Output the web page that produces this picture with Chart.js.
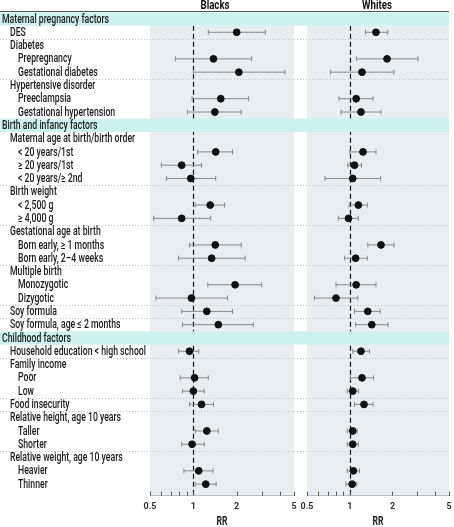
<!DOCTYPE html>
<html>
<head>
<meta charset="utf-8">
<script src="https://cdn.jsdelivr.net/npm/chart.js@4.4.1/dist/chart.umd.min.js"></script>
<style>
    html, body { margin: 0; padding: 0; background: #fff; }
    #wrap { position: relative; width: 454px; height: 527px; }
    #blacks { position: absolute; left: 0; top: 0; }
    #whites { position: absolute; left: 300px; top: 0; }
</style>
</head>
<body>
<div id="wrap">
    <canvas id="blacks" width="300" height="527"></canvas>
    <canvas id="whites" width="154" height="527"></canvas>
</div>
<script>
// rows, top to bottom (level 0 = section band, 1 = item, 2 = sub item)
var rowLabels = [
    "Maternal pregnancy factors", "DES", "Diabetes", "Prepregnancy", "Gestational diabetes",
    "Hypertensive disorder", "Preeclampsia", "Gestational hypertension",
    "Birth and infancy factors", "Maternal age at birth/birth order", "< 20 years/1st",
    "\u2265 20 years/1st", "< 20 years/\u2265 2nd", "Birth weight", "< 2,500 g", "\u2265 4,000 g",
    "Gestational age at birth", "Born early, \u2265 1 months", "Born early, 2\u20134 weeks",
    "Multiple birth", "Monozygotic", "Dizygotic", "Soy formula", "Soy formula, age \u2264 2 months",
    "Childhood factors", "Household education < high school", "Family income", "Poor", "Low",
    "Food insecurity", "Relative height, age 10 years", "Taller", "Shorter",
    "Relative weight, age 10 years", "Heavier", "Thinner"
];
var rowLevels = [0, 1, 1, 2, 2, 1, 2, 2, 0, 1, 2, 2, 2, 1, 2, 2, 1, 2, 2, 1, 2, 2, 1, 1,
                 0, 1, 1, 2, 2, 1, 1, 2, 2, 1, 2, 2];

var blackRR = [null, 2.0, null, 1.38, 2.07, null, 1.55, 1.41, null, null, 1.43, 0.83, 0.96, null, 1.31, 0.83,
               null, 1.42, 1.34, null, 1.95, 0.97, 1.24, 1.49, null, 0.94, null, 1.02, 1.00, 1.14, null,
               1.24, 0.98, null, 1.09, 1.22];
var blackLo = [null, 1.27, null, 0.75, 1.0, null, 0.98, 0.91, null, null, 1.07, 0.60, 0.65, null, 1.03, 0.53,
               null, 0.94, 0.79, null, 1.26, 0.55, 0.83, 0.84, null, 0.79, null, 0.81, 0.84, 0.94, null,
               1.03, 0.83, null, 0.86, 1.03];
var blackHi = [null, 3.16, null, 2.54, 4.33, null, 2.42, 2.15, null, null, 1.87, 1.14, 1.43, null, 1.65, 1.32,
               null, 2.15, 2.29, null, 2.98, 1.73, 1.87, 2.61, null, 1.09, null, 1.27, 1.19, 1.38, null,
               1.49, 1.19, null, 1.37, 1.44];

var whiteRR = [null, 1.53, null, 1.83, 1.22, null, 1.11, 1.20, null, null, 1.24, 1.08, 1.05, null, 1.15, 0.98,
               null, 1.66, 1.10, null, 1.11, 0.80, 1.34, 1.43, null, 1.20, null, 1.22, 1.05, 1.26, null,
               1.05, 1.05, null, 1.06, 1.04];
var whiteLo = [null, 1.29, null, 1.115, 0.73, null, 0.84, 0.87, null, null, 1.0, 0.97, 0.67, null, 0.99, 0.83,
               null, 1.34, 0.92, null, 0.80, 0.565, 1.08, 1.10, null, 1.05, null, 1.01, 0.96, 1.08, null,
               0.96, 0.96, null, 0.96, 0.94];
var whiteHi = [null, 1.85, null, 3.02, 2.05, null, 1.46, 1.66, null, null, 1.53, 1.21, 1.65, null, 1.33, 1.15,
               null, 2.05, 1.33, null, 1.53, 1.14, 1.64, 1.86, null, 1.38, null, 1.47, 1.15, 1.46, null,
               1.13, 1.15, null, 1.17, 1.12];

var tickValues = [0.5, 0.6, 0.7, 0.8, 0.9, 1, 2, 3, 4, 5];
var tickLabels = { 0.5: "0.5", 1: "1", 2: "2", 5: "5" };

var fontFam = 'Roboto, "DejaVu Sans", sans-serif';
var labelFont = '500 12.5px ' + fontFam;
var titleFont = 'bold 13px ' + fontFam;

// the original uses a condensed face, so text is squeezed horizontally to a target width
function squeezedText(ctx, txt, x, y, align, k) {
    ctx.save();
    ctx.textAlign = align;
    ctx.translate(x, y);
    ctx.scale(k, 1);
    ctx.fillText(txt, 0, 0);
    ctx.restore();
}

function fitScale(ctx, font, txt, width) {
    ctx.save();
    ctx.font = font;
    var k = width / ctx.measureText(txt).width;
    ctx.restore();
    return k;
}

function buildDatasets(rr, lo, hi) {
    var pts = [], caps = [], lines = [];
    rr.forEach(function (v, i) {
        if (v === null) return;
        var y = i + 1;
        pts.push({ x: v, y: y });
        caps.push({ x: lo[i], y: y });
        caps.push({ x: hi[i], y: y });
        lines.push({ x: lo[i], y: y });
        lines.push({ x: hi[i], y: y });
        lines.push({ x: null, y: y }); // break the line
    });
    return [
        { data: pts, pointRadius: 3.4, pointBackgroundColor: "#111", pointBorderColor: "#111", showLine: false },
        { data: caps, pointStyle: "line", rotation: 90, pointRadius: 2.5, pointBorderColor: "#888",
          pointBorderWidth: 1, showLine: false },
        { data: lines, showLine: true, spanGaps: false, borderColor: "#888", borderWidth: 1, pointRadius: 0 }
    ];
}

function panelPlugin(title, titleShift, withLabels) {
    return {
        id: "panel",
        beforeDatasetsDraw: function (chart) {
            var ctx = chart.ctx, area = chart.chartArea;
            var xs = chart.scales.x, ys = chart.scales.y;
            var rowH = ys.getPixelForValue(2) - ys.getPixelForValue(1);
            var right = withLabels ? chart.width : area.right;
            ctx.save();
            // panel background
            var top = ys.getPixelForValue(1.5);
            ctx.fillStyle = "#e8edf1";
            ctx.fillRect(area.left, top, area.width, area.bottom - top);
            // reference line at RR = 1
            var x1 = Math.round(xs.getPixelForValue(1)) + 0.5;
            ctx.strokeStyle = "#111";
            ctx.lineWidth = 1.2;
            ctx.setLineDash([5, 3]);
            ctx.beginPath();
            ctx.moveTo(x1, top);
            ctx.lineTo(x1, area.bottom);
            ctx.stroke();
            // section bands and separators
            ctx.setLineDash([1, 2]);
            ctx.lineWidth = 1;
            rowLevels.forEach(function (lv, i) {
                var yc = ys.getPixelForValue(i + 1);
                if (lv === 0) {
                    ctx.fillStyle = "#cdf1ef";
                    ctx.fillRect(0, yc - rowH / 2, right, rowH);
                } else if (lv === 1 && rowLevels[i - 1] !== 0) {
                    var ys0 = Math.round(yc - rowH / 2) + 0.5;
                    ctx.strokeStyle = "#c4c4c4";
                    ctx.beginPath();
                    ctx.moveTo(0, ys0);
                    ctx.lineTo(right, ys0);
                    ctx.stroke();
                }
            });
            ctx.setLineDash([]);
            // top rule
            var yt = Math.round(ys.getPixelForValue(0.5)) - 0.5;
            ctx.strokeStyle = "#555";
            ctx.beginPath();
            ctx.moveTo(0, yt);
            ctx.lineTo(right, yt);
            ctx.stroke();
            ctx.restore();
        },
        afterDraw: function (chart) {
            var ctx = chart.ctx, area = chart.chartArea;
            var xs = chart.scales.x, ys = chart.scales.y;
            ctx.save();
            // tick marks pointing up into the panel
            ctx.strokeStyle = "#555";
            ctx.lineWidth = 1;
            tickValues.forEach(function (v) {
                var x = Math.round(xs.getPixelForValue(v)) + 0.5;
                ctx.beginPath();
                ctx.moveTo(x, area.bottom);
                ctx.lineTo(x, area.bottom - 4);
                ctx.stroke();
            });
            // panel title
            ctx.fillStyle = "#111";
            ctx.font = titleFont;
            ctx.textBaseline = "middle";
            squeezedText(ctx, title, (area.left + area.right) / 2 + titleShift, 5.5, "center",
                fitScale(ctx, titleFont, "Blacks", 29));
            // row labels
            if (withLabels) {
                var k = fitScale(ctx, labelFont, "Household education < high school", 136);
                ctx.font = labelFont;
                ctx.fillStyle = "#1a1a1a";
                rowLabels.forEach(function (lab, i) {
                    squeezedText(ctx, lab, 2 + rowLevels[i] * 8, ys.getPixelForValue(i + 1) + 0.5, "left", k);
                });
            }
            // axis title
            ctx.font = 'bold 12px ' + fontFam;
            ctx.fillStyle = "#222";
            squeezedText(ctx, "RR", (area.left + area.right) / 2, 521.5, "center",
                fitScale(ctx, 'bold 12px ' + fontFam, "RR", 11));
            ctx.restore();
        }
    };
}

function makeChart(id, title, titleShift, withLabels, pad, rr, lo, hi) {
    return new Chart(document.getElementById(id), {
        type: "scatter",
        data: { datasets: buildDatasets(rr, lo, hi) },
        options: {
            responsive: false,
            animation: false,
            layout: { padding: pad },
            plugins: { legend: { display: false }, tooltip: { enabled: false } },
            scales: {
                x: {
                    type: "logarithmic",
                    position: "bottom",
                    min: 0.5,
                    max: 5,
                    afterBuildTicks: function (s) {
                        s.ticks = tickValues.map(function (v) { return { value: v }; });
                    },
                    afterFit: function (s) {
                        s.height = 31.3;
                        s.paddingLeft = 0;
                        s.paddingRight = 0;
                    },
                    grid: { display: false, drawTicks: false },
                    border: { display: true, color: "#555", width: 1 },
                    ticks: {
                        autoSkip: false,
                        maxRotation: 0,
                        padding: 6,
                        color: "#333",
                        font: { family: fontFam, size: 9, weight: "bold" },
                        callback: function (v) { return tickLabels[v] || ""; }
                    }
                },
                y: {
                    type: "linear",
                    reverse: true,
                    min: 0.5,
                    max: 36.87,
                    display: false
                }
            }
        },
        plugins: [panelPlugin(title, titleShift, withLabels)]
    });
}

makeChart("blacks", "Blacks", -7, true, { left: 150, right: 6, top: 12.35, bottom: 0 }, blackRR, blackLo, blackHi);
makeChart("whites", "Whites", -1, false, { left: 7, right: 3, top: 12.35, bottom: 0 }, whiteRR, whiteLo, whiteHi);
</script>
</body>
</html>
